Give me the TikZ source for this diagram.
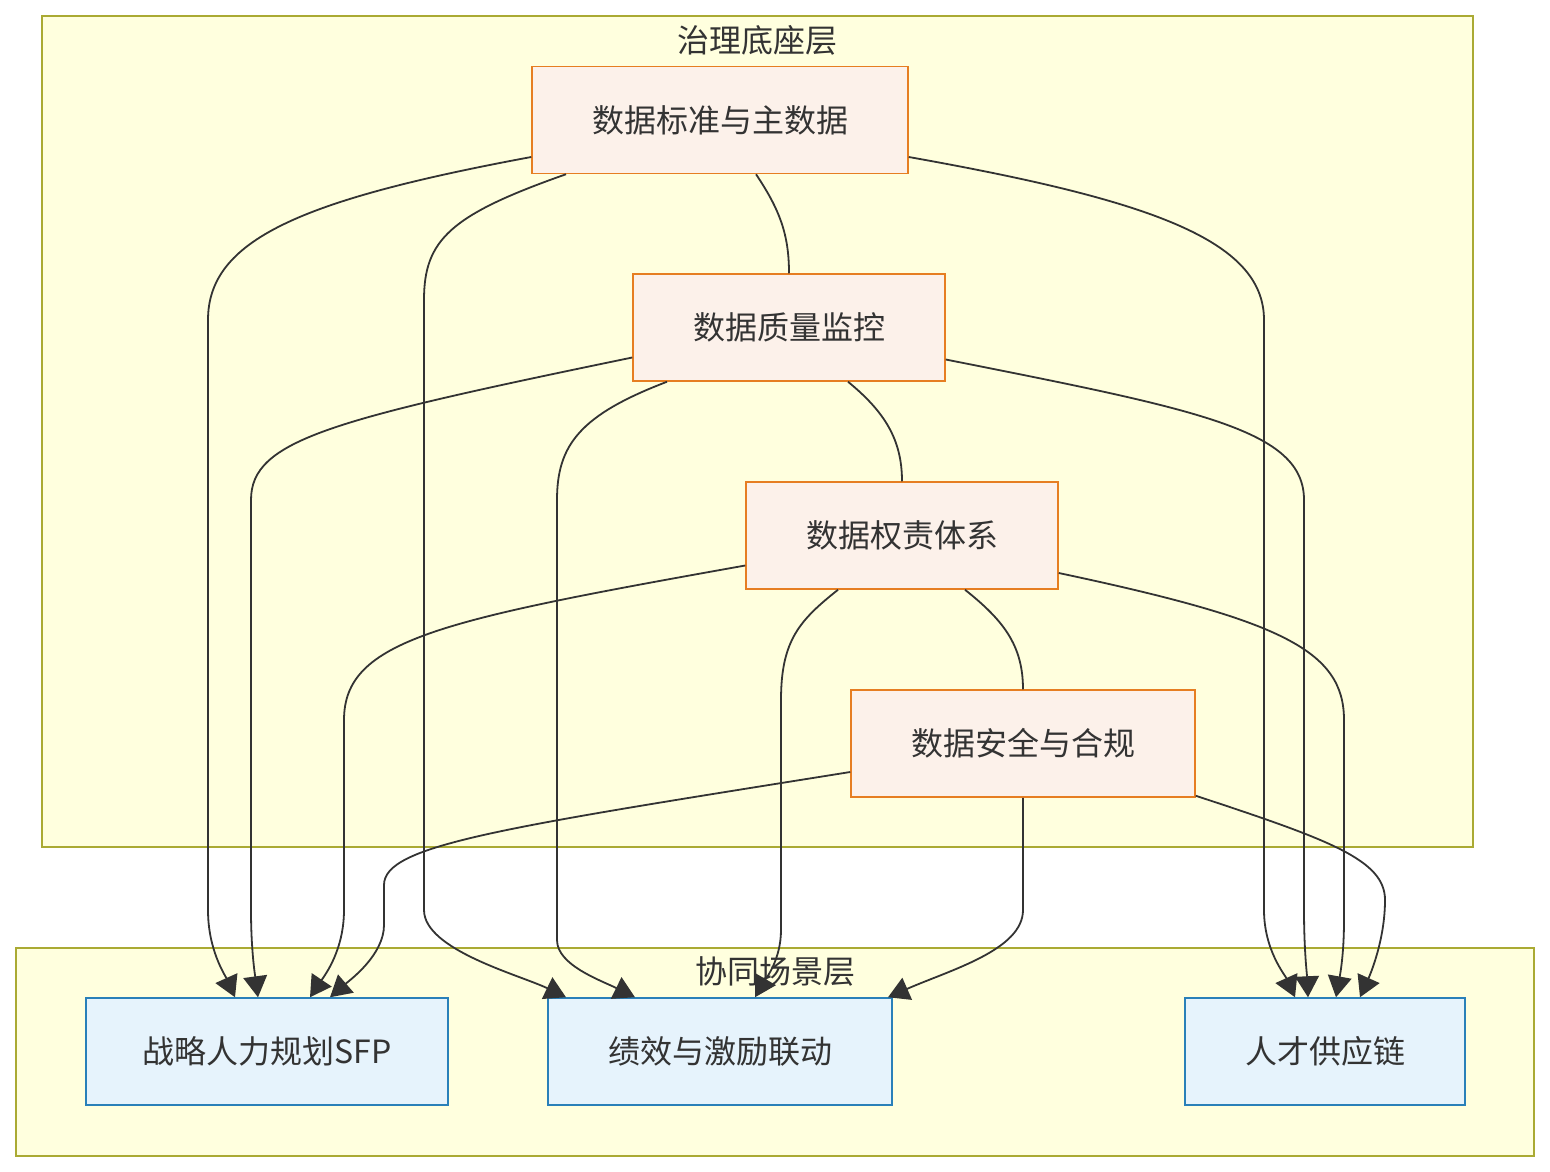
\documentclass[tikz,border=0pt]{standalone}
\usepackage{fontspec}
\newfontfamily\cjk{Noto Sans CJK SC}
\usepackage{tikz}
\usetikzlibrary{arrows.meta}
\definecolor{grpfill}{HTML}{FFFFDE}
\definecolor{grpline}{HTML}{AAAA33}
\definecolor{govfill}{HTML}{FCF1EA}
\definecolor{govline}{HTML}{E67E22}
\definecolor{scnfill}{HTML}{E6F3FC}
\definecolor{scnline}{HTML}{2980B9}
\definecolor{ink}{HTML}{333333}
\tikzset{
  grp/.style={draw=grpline, fill=grpfill, line width=1.5pt, inner sep=0pt},
  gov/.style={draw=govline, fill=govfill, line width=1.5pt, minimum height=107pt, inner sep=0pt},
  scn/.style={draw=scnline, fill=scnfill, line width=1.5pt, minimum height=107pt, inner sep=0pt},
  link/.style={draw=ink, line width=1.8pt},
  arr/.style={link, -{Triangle[length=15pt 0 0,width=17pt 0 0,scale=1.4]}}
}
\begin{document}
\begin{tikzpicture}[x=1pt, y=-1pt, font=\cjk\fontsize{32}{38}\selectfont, text=ink]
\useasboundingbox (0,0) rectangle (1550,1172);
% layer frames
\node[grp, minimum width=1431pt, minimum height=831pt] (govlayer) at (757.5,431.5) {};
\node (govtitle) at (757,40) {治理底座层};
\node[grp, minimum width=1518pt, minimum height=208pt] (scnlayer) at (775,1052) {};
\node (scntitle) at (775,971) {协同场景层};
% governance chain
\node[gov, minimum width=376pt] (std) at (720,120) {数据标准与主数据};
\node[gov, minimum width=312pt] (qual) at (789,327.5) {数据质量监控};
\node[gov, minimum width=312pt] (own) at (902,535.5) {数据权责体系};
\node[gov, minimum width=344pt] (sec) at (1023,743.5) {数据安全与合规};
% scenes
\node[scn, minimum width=362pt] (sfp) at (267,1051.5) {战略人力规划SFP};
\node[scn, minimum width=344pt] (perf) at (720,1051.5) {绩效与激励联动};
\node[scn, minimum width=280pt] (chain) at (1325,1051.5) {人才供应链};
% links inside the base
\draw[link] ([xshift=36pt]std.south) .. controls (780,210) and (789,235) .. (qual.north);
\draw[link] ([xshift=59pt]qual.south) .. controls (885,412) and (902,440) .. (own.north);
\draw[link] ([xshift=63pt]own.south) .. controls (1003,620) and (1023,645) .. (sec.north);
% standards feed all scenes
\draw[arr] ([yshift=-37pt]std.west) .. controls (300,200) and (208,240) .. (208,320) -- (208,910) .. controls (208,950) and (225,975) .. ([xshift=-32pt]sfp.north);
\draw[arr] ([xshift=-154pt]std.south) .. controls (450,215) and (424,240) .. (424,300) -- (424,910) .. controls (424,950) and (520,975) .. ([xshift=-154pt]perf.north);
\draw[arr] ([yshift=-37pt]std.east) .. controls (1150,200) and (1264,240) .. (1264,320) -- (1264,910) .. controls (1264,950) and (1285,975) .. ([xshift=-30pt]chain.north);
% quality
\draw[arr] ([yshift=-30pt]qual.west) .. controls (330,420) and (251,440) .. (251,500) -- (251,910) .. controls (251,950) and (255,975) .. ([xshift=-9pt]sfp.north);
\draw[arr] ([xshift=-122pt]qual.south) .. controls (580,415) and (557,445) .. (557,500) -- (557,940) .. controls (557,965) and (600,980) .. ([xshift=-85pt]perf.north);
\draw[arr] ([yshift=-32pt]qual.east) .. controls (1200,410) and (1304,430) .. (1304,500) -- (1304,910) .. controls (1304,950) and (1307,975) .. ([xshift=-17pt]chain.north);
% ownership
\draw[arr] ([yshift=-30pt]own.west) .. controls (440,620) and (344,640) .. (344,720) -- (344,910) .. controls (344,950) and (325,975) .. ([xshift=43pt]sfp.north);
\draw[arr] ([xshift=-64pt]own.south) .. controls (800,620) and (781,640) .. (781,700) -- (781,930) .. controls (781,960) and (765,980) .. ([xshift=35pt]perf.north);
\draw[arr] ([yshift=-37.5pt]own.east) .. controls (1280,620) and (1344,650) .. (1344,720) -- (1344,920) .. controls (1344,955) and (1340,975) .. ([xshift=11pt]chain.north);
% security
\draw[arr] ([yshift=-28.5pt]sec.west) .. controls (500,828) and (384,845) .. (384,885) -- (384,925) .. controls (384,955) and (350,980) .. ([xshift=63pt]sfp.north);
\draw[arr] (sec.south) -- (1023,910) .. controls (1023,950) and (950,970) .. ([xshift=168pt]perf.north);
\draw[arr] ([yshift=2pt]sec.south east) .. controls (1330,840) and (1385,860) .. (1385,900) .. controls (1385,940) and (1370,975) .. ([xshift=35pt]chain.north);
\end{tikzpicture}
\end{document}
